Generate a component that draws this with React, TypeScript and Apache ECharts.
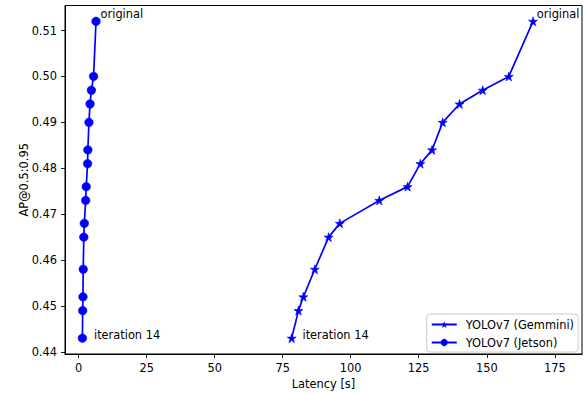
import React, { useEffect, useRef } from 'react';
import * as echarts from 'echarts';

const gemminiLatency = [167.0, 158.1, 148.5, 140.0, 133.8, 129.9, 125.6, 120.9, 110.5, 96.0, 91.9, 86.8, 82.6, 80.8, 78.3];
const gemminiAP = [0.512, 0.5, 0.497, 0.494, 0.49, 0.484, 0.481, 0.476, 0.473, 0.468, 0.465, 0.458, 0.452, 0.449, 0.443];
const jetsonLatency = [6.4, 5.5, 4.7, 4.2, 3.8, 3.4, 3.3, 2.8, 2.6, 2.1, 1.9, 1.7, 1.6, 1.5, 1.4];
const jetsonAP = [0.512, 0.5, 0.497, 0.494, 0.49, 0.484, 0.481, 0.476, 0.473, 0.468, 0.465, 0.458, 0.452, 0.449, 0.443];

const seriesNames = ['YOLOv7 (Gemmini)', 'YOLOv7 (Jetson)'];
const firstLabel = 'original';
const lastLabel = 'iteration 14';

const xTicks = [0, 25, 50, 75, 100, 125, 150, 175];
const yTicks = [0.44, 0.45, 0.46, 0.47, 0.48, 0.49, 0.5, 0.51];

const FONT = 'DejaVu Sans';
const FS = 11.4;
const BLUE = '#0000ff';
const STAR =
  'path://M100 0 L122.45 69.1 L195.1 69.1 L136.33 111.8 L158.78 180.9 L100 138.2 L41.22 180.9 L63.67 111.8 L4.9 69.1 L77.55 69.1 Z';

function buildData(xs: number[], ys: number[], firstDist: number, lastDist: number) {
  return xs.map((x, i) => {
    if (i === 0) {
      return {
        value: [x, ys[i]],
        label: {
          show: true,
          formatter: firstLabel,
          position: 'right',
          distance: firstDist,
          offset: [0, -7],
          fontFamily: FONT,
          fontSize: FS,
          color: '#000',
        },
      };
    }
    if (i === xs.length - 1) {
      return {
        value: [x, ys[i]],
        label: {
          show: true,
          formatter: lastLabel,
          position: 'right',
          distance: lastDist,
          offset: [0, -3],
          fontFamily: FONT,
          fontSize: FS,
          color: '#000',
        },
      };
    }
    return [x, ys[i]];
  });
}

export default function App() {
  const ref = useRef<HTMLDivElement>(null);
  useEffect(() => {
    document.body.style.margin = '0';
    if (!ref.current) return;
    const chart = echarts.init(ref.current, null, { renderer: 'svg' });
    chart.setOption({
      animation: false,
      textStyle: { fontFamily: FONT },
      grid: {
        left: 65,
        right: 3,
        top: 5.5,
        bottom: 36,
        show: true,
        borderColor: '#000',
        borderWidth: 1,
        backgroundColor: 'transparent',
      },
      xAxis: {
        type: 'value',
        min: -5,
        max: 185,
        name: 'Latency [s]',
        nameLocation: 'middle',
        nameGap: 24,
        nameMoveOverlap: false,
        nameTextStyle: { fontFamily: FONT, fontSize: FS, color: '#000' },
        axisLine: { show: true, onZero: false, lineStyle: { color: '#000', width: 1 } },
        axisTick: { show: true, length: 4, lineStyle: { color: '#000', width: 0.9 }, customValues: xTicks },
        axisLabel: { fontFamily: FONT, fontSize: FS, color: '#000', margin: 8, customValues: xTicks },
        splitLine: { show: false },
      },
      yAxis: {
        type: 'value',
        min: 0.43955,
        max: 0.51545,
        name: 'AP@0.5:0.95',
        nameLocation: 'middle',
        nameGap: 36,
        nameMoveOverlap: false,
        nameTextStyle: { fontFamily: FONT, fontSize: FS, color: '#000' },
        axisLine: { show: true, onZero: false, lineStyle: { color: '#000', width: 1 } },
        axisTick: { show: true, length: 4, lineStyle: { color: '#000', width: 0.9 }, customValues: yTicks },
        axisLabel: {
          fontFamily: FONT,
          fontSize: FS,
          color: '#000',
          margin: 8,
          customValues: yTicks,
          formatter: (v: number) => v.toFixed(2),
        },
        splitLine: { show: false },
      },
      legend: {
        orient: 'vertical',
        right: 7,
        bottom: 42,
        itemWidth: 25,
        itemHeight: 9,
        itemGap: 7,
        padding: [5, 4, 4, 4],
        borderColor: '#cccccc',
        borderWidth: 1,
        borderRadius: 3,
        backgroundColor: 'rgba(255,255,255,0.8)',
        itemStyle: { borderWidth: 0 },
        textStyle: { fontFamily: FONT, fontSize: FS, color: '#000', lineHeight: 11, padding: [0, 0, 0, 4] },
        data: seriesNames,
      },
      series: [
        {
          type: 'line',
          name: seriesNames[0],
          data: buildData(gemminiLatency, gemminiAP, -1, 6),
          symbol: STAR,
          symbolSize: 9,
          showAllSymbol: true,
          silent: true,
          lineStyle: { color: BLUE, width: 1.7 },
          itemStyle: { color: BLUE, borderColor: BLUE, borderWidth: 0.6 },
          emphasis: { disabled: true },
        },
        {
          type: 'line',
          name: seriesNames[1],
          data: buildData(jetsonLatency, jetsonAP, 0, 7),
          symbol: 'circle',
          symbolSize: 8.5,
          showAllSymbol: true,
          silent: true,
          lineStyle: { color: BLUE, width: 1.7 },
          itemStyle: { color: BLUE, borderColor: BLUE, borderWidth: 0.6 },
          emphasis: { disabled: true },
        },
      ],
    });
    return () => chart.dispose();
  }, []);
  return <div ref={ref} style={{ width: 585, height: 394 }} />;
}
